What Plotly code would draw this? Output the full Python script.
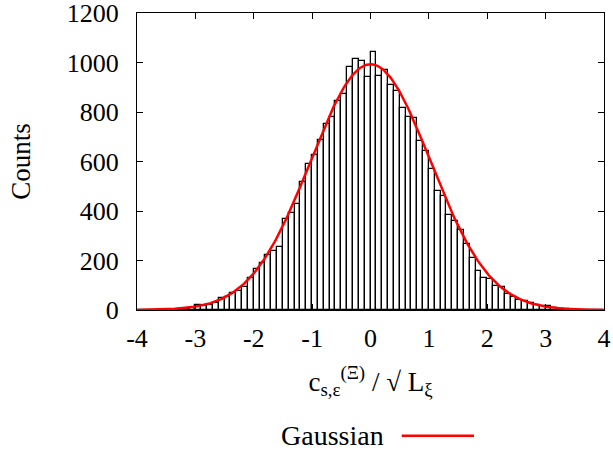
import math
import plotly.graph_objects as go

# Histogram bin left edges (-4.0 .. 3.9, width 0.1)
bin_width = 0.1
bin_left = [round(-4.0 + i * 0.1, 1) for i in range(80)]
counts = [
    0, 0, 0, 0, 0, 1, 2, 4, 6, 9,            # -4.0 .. -3.1
    20, 16, 20, 27, 50, 54, 67, 78, 92, 129,  # -3.0 .. -2.1
    166, 191, 224, 237, 253, 368, 391, 428, 516, 591,  # -2.0 .. -1.1
    628, 687, 750, 778, 844, 872, 983, 1013, 1006, 940,  # -1.0 .. -0.1
    1041, 947, 969, 909, 886, 817, 779, 774, 684, 641,  # 0.0 .. 0.9
    571, 481, 462, 382, 361, 322, 268, 209, 158, 131,   # 1.0 .. 1.9
    125, 97, 94, 66, 51, 40, 35, 29, 20, 16,            # 2.0 .. 2.9
    18, 8, 5, 3, 2, 1, 0, 0, 0, 0,                      # 3.0 .. 3.9
]
bin_centers = [round(b + bin_width / 2, 2) for b in bin_left]

# Gaussian fit parameters
gauss_amp = 993.0
gauss_mu = 0.0
gauss_sigma = 1.025
gx = [-4 + i * 0.02 for i in range(401)]
gy = [gauss_amp * math.exp(-0.5 * ((x - gauss_mu) / gauss_sigma) ** 2) for x in gx]

x_ticks = [-4, -3, -2, -1, 0, 1, 2, 3, 4]
y_ticks = [0, 200, 400, 600, 800, 1000, 1200]

FONT = "Liberation Serif, Times New Roman, serif"

fig = go.Figure()
fig.add_trace(go.Bar(
    x=bin_centers, y=counts, width=bin_width,
    marker=dict(color="white", line=dict(color="black", width=1.3)),
    showlegend=False,
))
fig.add_trace(go.Scatter(
    x=gx, y=gy, mode="lines",
    line=dict(color="#ff0000", width=2.5),
    showlegend=False,
))

axis_common = dict(
    showline=True, linecolor="black", linewidth=1.3, mirror="ticks",
    ticks="inside", ticklen=6, tickcolor="black", tickwidth=1,
    showgrid=False, zeroline=False, automargin=False,
    ticklabeloverflow="allow",
    tickfont=dict(family=FONT, size=26, color="black"),
)

fig.update_layout(
    width=613, height=454,
    margin=dict(l=137, r=9, t=13, b=144),
    paper_bgcolor="white", plot_bgcolor="white",
    bargap=0,
    xaxis=dict(range=[-4, 4], tickvals=x_ticks, ticktext=[str(v) for v in x_ticks],
               ticklabelstandoff=5,
               title=dict(text="c<sub>s,ε</sub><sup>(Ξ)</sup> / √ L<sub>ξ</sub>",
                          font=dict(family=FONT, size=27, color="black"), standoff=19),
               **axis_common),
    yaxis=dict(range=[0, 1200], tickvals=y_ticks, ticktext=[str(v) for v in y_ticks],
               ticklabelstandoff=12,
               title=dict(text="Counts", font=dict(family=FONT, size=27, color="black"),
                          standoff=28),
               **axis_common),
    shapes=[dict(type="line", xref="paper", yref="paper",
                 x0=0.5668, x1=0.7216, y0=-0.4232, y1=-0.4232,
                 line=dict(color="#ff0000", width=2.5))],
    annotations=[dict(text="Gaussian", xref="paper", yref="paper",
                      x=0.5332, y=-0.4232, xanchor="right", yanchor="middle",
                      showarrow=False, font=dict(family=FONT, size=28, color="black"))],
)

fig.write_html("out.html",
               config={"displayModeBar": False},
               post_script="document.body.style.margin='0px';document.body.style.overflow='hidden';")
